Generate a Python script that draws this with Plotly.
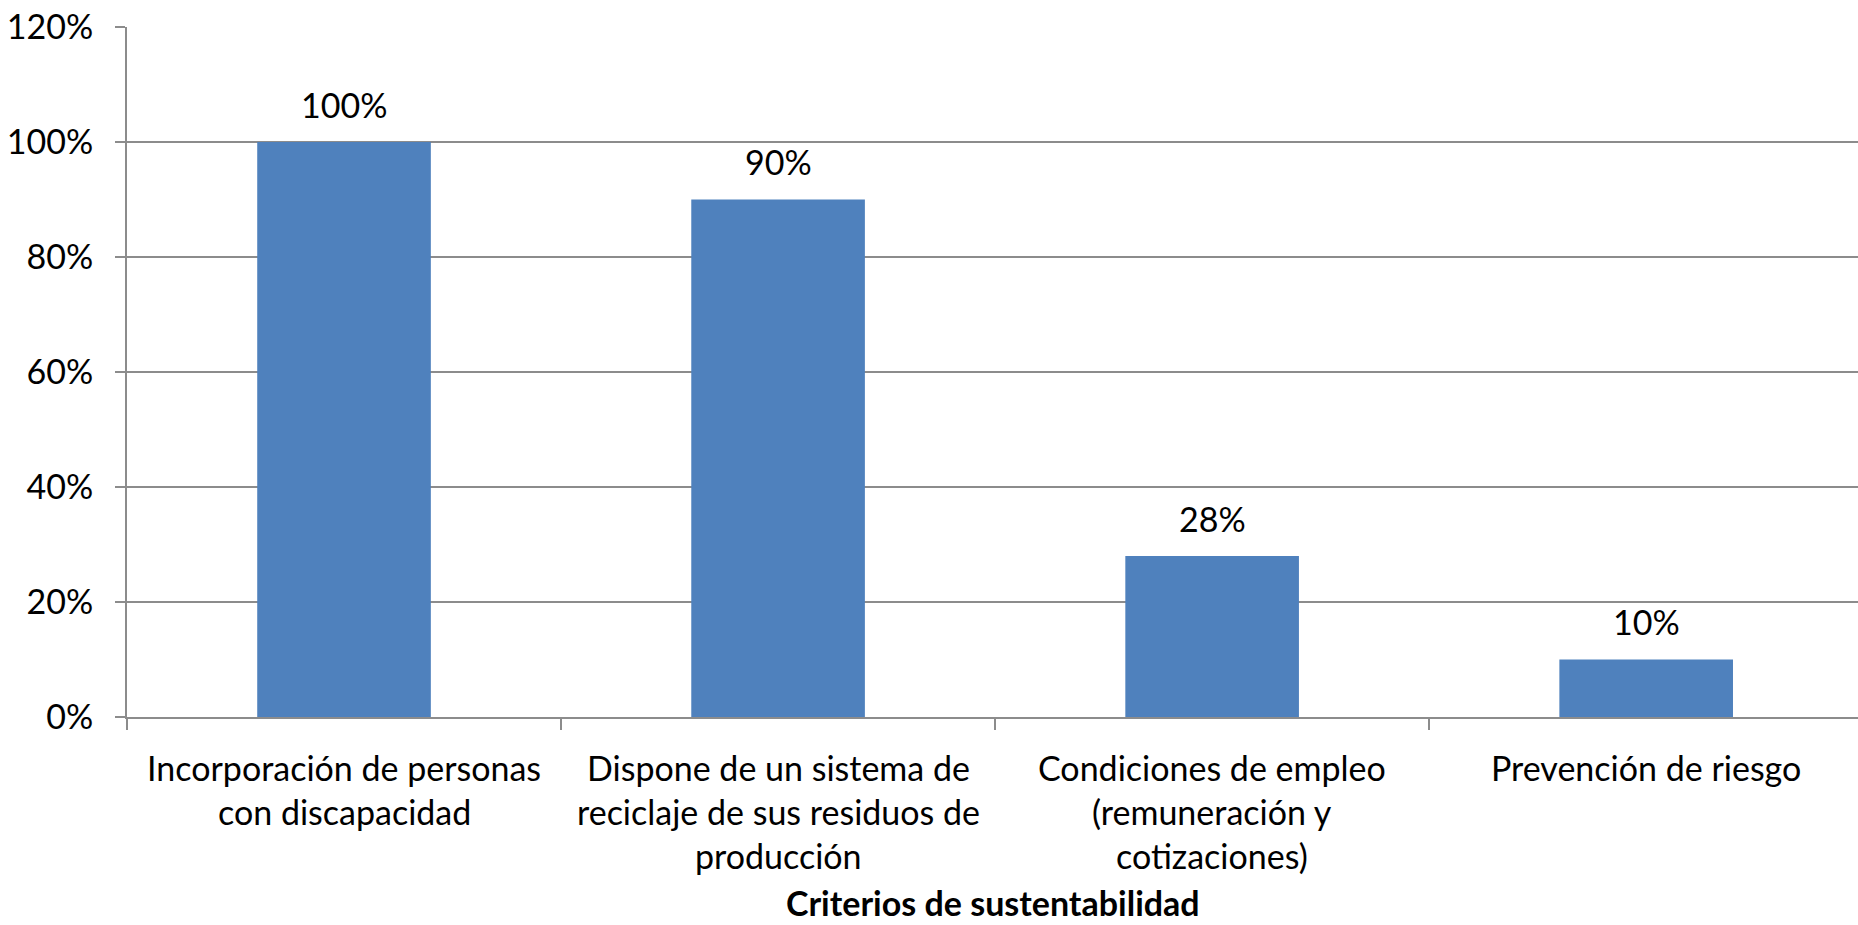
import plotly.graph_objects as go

categories = [
    "Incorporación de personas con discapacidad",
    "Dispone de un sistema de reciclaje de sus residuos de producción",
    "Condiciones de empleo (remuneración y cotizaciones)",
    "Prevención de riesgo",
]
label_lines = [
    ["Incorporación de personas", "con discapacidad"],
    ["Dispone de un sistema de", "reciclaje de sus residuos de", "producción"],
    ["Condiciones de empleo", "(remuneración y", "cotizaciones)"],
    ["Prevención de riesgo"],
]
values = [100, 90, 28, 10]
y_ticks = [0, 20, 40, 60, 80, 100, 120]
y_tick_text = ["0%", "20%", "40%", "60%", "80%", "100%", "120%"]
x_title = "Criterios de sustentabilidad"

FONT = "Lato"
FS = 34
GRID = "#8c8c8c"

fig = go.Figure()
fig.add_trace(go.Bar(
    x=categories, y=values,
    marker=dict(color="#4F81BD", line=dict(width=0)),
    width=0.4,
    hoverinfo="skip",
))

ann = []
for c, v in zip(categories, values):
    ann.append(dict(x=c, y=v, xref="x", yref="y", text=f"{v}%",
                    showarrow=False, yshift=38, yanchor="middle",
                    font=dict(family=FONT, size=FS, color="black")))
for c, lines in zip(categories, label_lines):
    for i, ln in enumerate(lines):
        ann.append(dict(x=c, y=0, xref="x", yref="y", text=ln, showarrow=False,
                        yshift=-(50 + 44 * i), yanchor="middle",
                        font=dict(family=FONT, size=FS, color="black")))
ann.append(dict(x=0.5, y=0, xref="paper", yref="y", text=f"<b>{x_title}</b>",
                showarrow=False, yshift=-185, yanchor="middle",
                font=dict(family=FONT, size=FS, color="black")))

fig.update_layout(
    width=1858, height=925,
    margin=dict(l=127, r=0, t=27, b=208),
    paper_bgcolor="white", plot_bgcolor="white",
    showlegend=False,
    annotations=ann,
    font=dict(family=FONT, size=FS, color="black"),
)
fig.update_xaxes(
    type="category", range=[-0.5, 3.488],
    showticklabels=False, showgrid=False,
    showline=True, linecolor=GRID, linewidth=2,
    ticks="outside", tickson="boundaries", ticklen=11, tickcolor=GRID, tickwidth=2,
    zeroline=False,
)
fig.update_yaxes(
    range=[0, 120], tickvals=y_ticks, ticktext=y_tick_text,
    showgrid=True, gridcolor=GRID, gridwidth=2,
    showline=True, linecolor=GRID, linewidth=2,
    ticks="outside", ticklen=10, tickcolor=GRID, tickwidth=2,
    ticklabelstandoff=15, ticklabeloverflow="allow",
    tickfont=dict(family=FONT, size=FS, color="black"),
    zeroline=False,
)

fig.write_html(
    "out.html",
    config={"displayModeBar": False},
    post_script="document.body.style.margin='0';document.body.style.overflow='hidden';",
)
